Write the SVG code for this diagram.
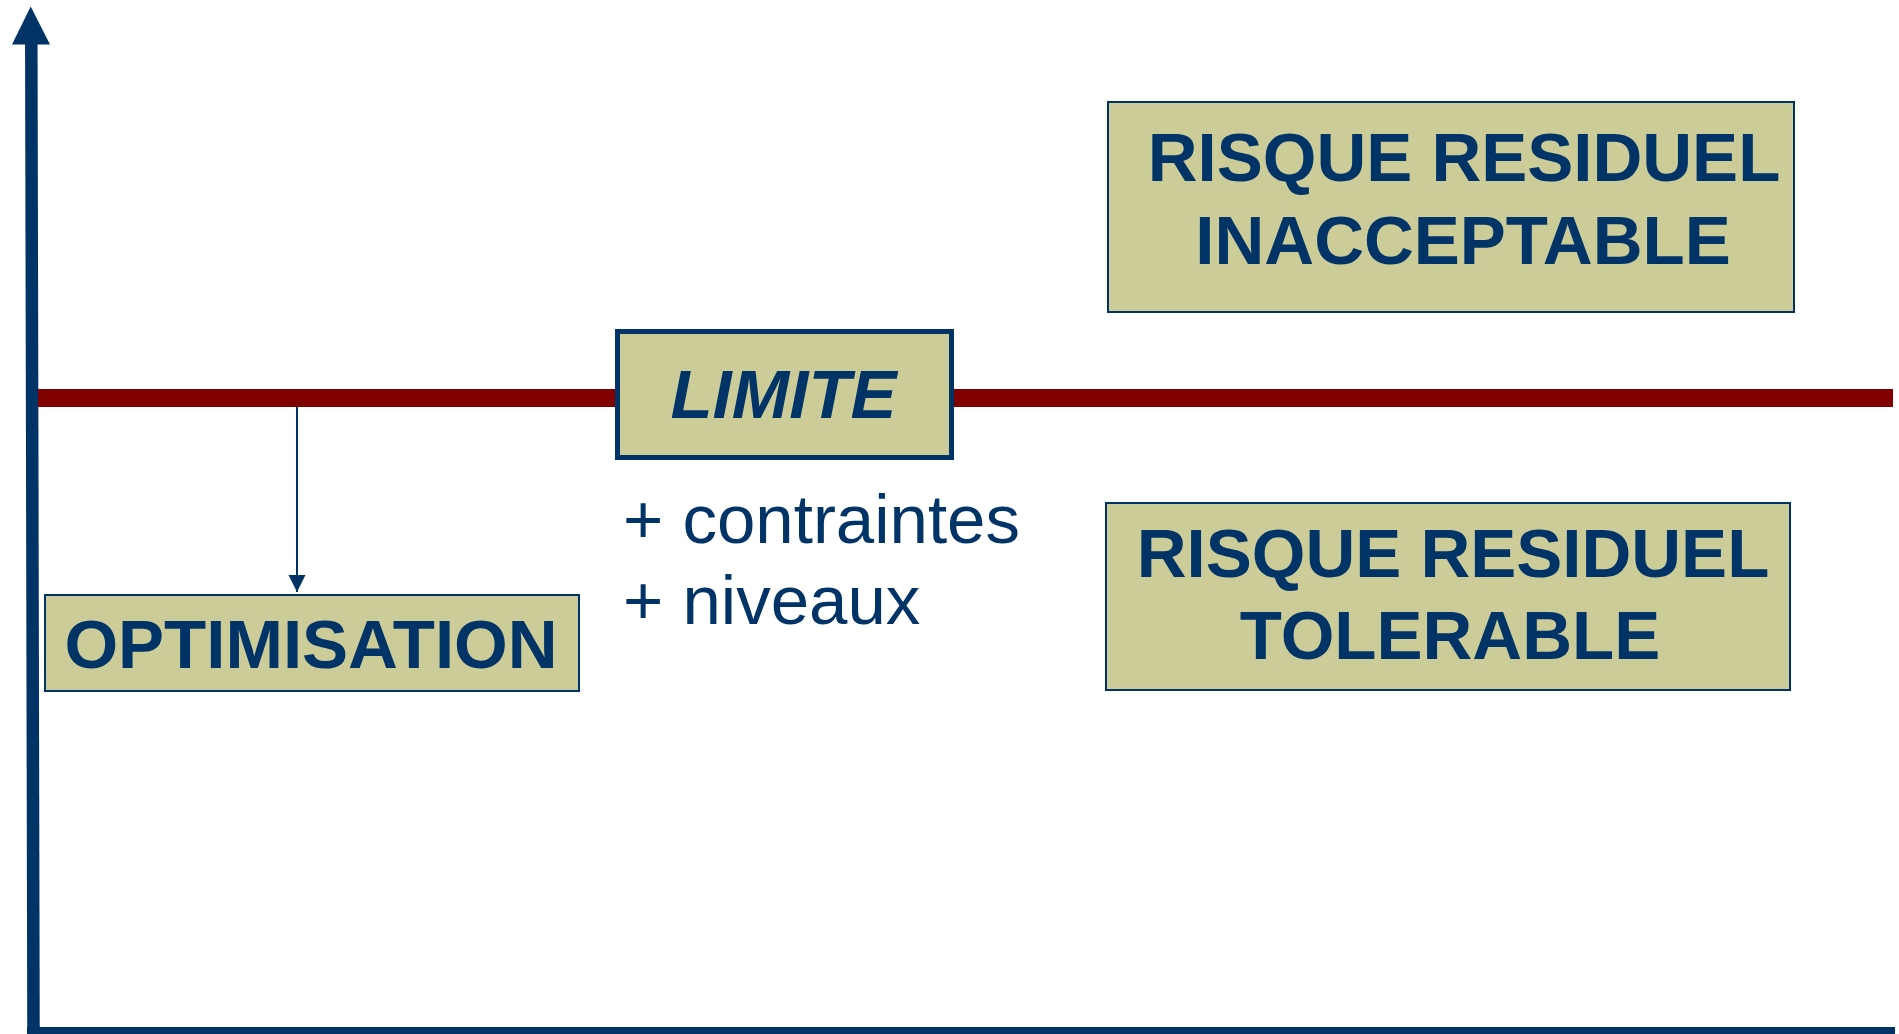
<svg xmlns="http://www.w3.org/2000/svg" width="1899" height="1034" viewBox="0 0 1899 1034">
<style>
.box{fill:#CCCC99;stroke:#003366;stroke-width:2}
.lbl{font-family:"Liberation Sans",Arial,sans-serif;font-weight:bold;fill:#003366;font-size:69px;text-anchor:middle}
.note{font-family:"Liberation Sans",Arial,sans-serif;fill:#003366;font-size:69px}
</style>
<defs>
<marker id="ah" markerUnits="userSpaceOnUse" markerWidth="18" markerHeight="18" refX="17" refY="9" orient="auto" viewBox="0 0 18 18">
<path d="M0,0.5 L17,9 L0,17.5 Z" fill="#003366"/>
</marker>
</defs>
<rect width="1899" height="1034" fill="#FFFFFF"/>
<g id="axes">
<line x1="31.3" y1="40" x2="33.5" y2="1034" stroke="#003366" stroke-width="12.5"/>
<polygon points="30.7,6.5 50,44.5 12,44.5" fill="#003366"/>
<line x1="27" y1="1033" x2="1895" y2="1033" stroke="#003366" stroke-width="12"/>
</g>
<g id="connectors">
<line x1="38" y1="398" x2="1893" y2="398" stroke="#800000" stroke-width="18"/>
<line x1="297" y1="407" x2="297" y2="592" stroke="#003366" stroke-width="2" marker-end="url(#ah)"/>
</g>
<g id="limite">
<rect x="617.5" y="331.5" width="334" height="126" fill="#CCCC99" stroke="#003366" stroke-width="5"/>
<text class="lbl" x="783.5" y="418" font-size="70" font-style="italic">LIMITE</text>
</g>
<g id="notes">
<text class="note" x="623" y="543">+ contraintes</text>
<text class="note" x="623" y="624">+ niveaux</text>
</g>
<g id="inacceptable">
<rect class="box" x="1108" y="102" width="686" height="210"/>
<text class="lbl" x="1464" y="181">RISQUE RESIDUEL</text>
<text class="lbl" x="1463" y="264">INACCEPTABLE</text>
</g>
<g id="tolerable">
<rect class="box" x="1106" y="503" width="684" height="187"/>
<text class="lbl" x="1453" y="577">RISQUE RESIDUEL</text>
<text class="lbl" x="1450" y="659">TOLERABLE</text>
</g>
<g id="optimisation">
<rect class="box" x="45" y="595" width="534" height="96"/>
<text class="lbl" x="311" y="668">OPTIMISATION</text>
</g>
</svg>
